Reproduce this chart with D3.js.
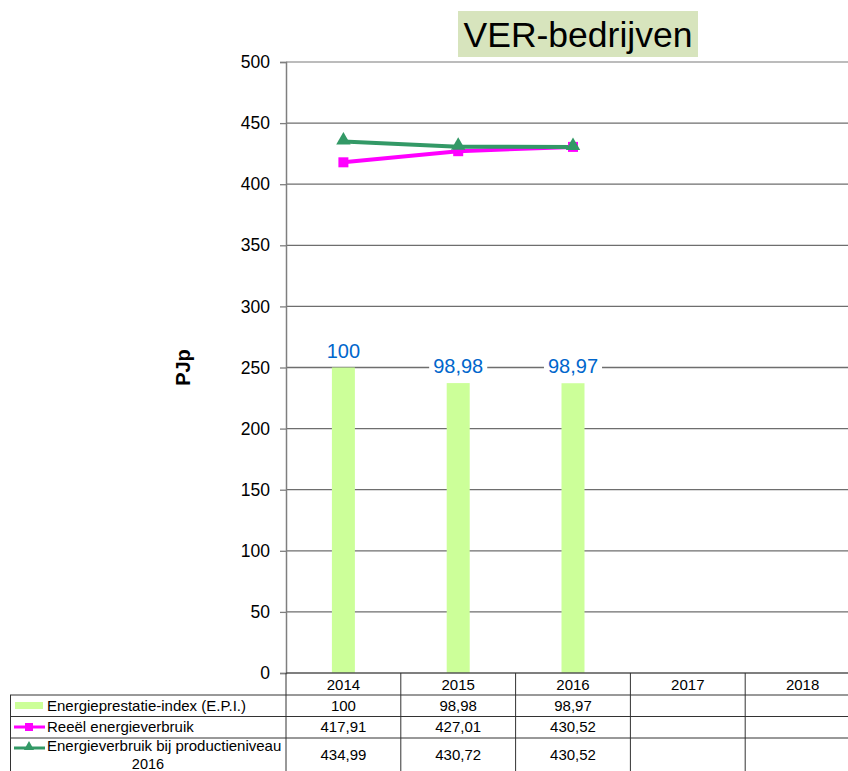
<!DOCTYPE html>
<html><head><meta charset="utf-8">
<script src="https://cdn.jsdelivr.net/npm/d3@7"></script>
<style>body{margin:0;background:#fff;overflow:hidden}svg{display:block;font-family:Arial,"Liberation Sans",sans-serif}</style>
</head><body>
<svg id="c" width="848" height="771"></svg>
<script>
const years = ["2014","2015","2016","2017","2018"];
const epi = [100, 98.98, 98.97, null, null];
const reeel = [417.91, 427.01, 430.52, null, null];
const prodniveau = [434.99, 430.72, 430.52, null, null];
const yTicks = [0,50,100,150,200,250,300,350,400,450,500];
const seriesNames = ["Energieprestatie-index (E.P.I.)","Reeël energieverbruik","Energieverbruik bij productieniveau 2016"];
const fmt = v => v == null ? "" : String(v).replace(".", ",");

const svg = d3.select("#c");
const L = 286, R = 860, T = 62, B = 673;
const x = d3.scaleBand().domain(years).range([L, R]);
const y = d3.scaleLinear().domain([0, 500]).range([B, T]);
const y2 = d3.scaleLinear().domain([80, 120]).range([B, T]);

// Title
const tg = svg.append("g");
tg.append("rect").attr("x", 458).attr("y", 11).attr("width", 240).attr("height", 46).attr("fill", "#d7e4bd");
tg.append("text").attr("x", 578).attr("y", 47).attr("text-anchor", "middle").attr("font-size", 35.5).attr("fill", "#000").text("VER-bedrijven");

// Gridlines
svg.append("g").selectAll("line").data(yTicks.filter(d => d > 0)).join("line")
  .attr("x1", L).attr("x2", R).attr("y1", d => y(d)).attr("y2", d => y(d))
  .attr("stroke", d => d === 500 ? "#a6a6a6" : "#6e6e6e").attr("stroke-width", 1.3);

// Y axis
const ax = svg.append("g").attr("transform", `translate(${L},0)`)
  .call(d3.axisLeft(y).tickValues(yTicks).tickSize(6).tickPadding(10));
ax.select(".domain").attr("stroke", "#7f7f7f").attr("stroke-width", 1.5);
ax.selectAll(".tick line").attr("stroke", "#7f7f7f").attr("stroke-width", 1.3);
ax.selectAll(".tick text").attr("font-size", 17.5).attr("fill", "#000").attr("font-family", "Arial, 'Liberation Sans', sans-serif");

svg.append("text").attr("transform", `translate(190,${y(250)}) rotate(-90)`).attr("text-anchor", "middle")
  .attr("font-size", 20).attr("font-weight", "bold").text("PJp");

// Bars
const barW = 23;
const barData = years.map((yr, i) => ({yr, v: epi[i]})).filter(d => d.v != null);
svg.append("g").selectAll("rect").data(barData).join("rect")
  .attr("x", d => x(d.yr) + x.bandwidth()/2 - barW/2).attr("width", barW)
  .attr("y", d => y2(d.v)).attr("height", d => B - y2(d.v)).attr("fill", "#ccff99");

// Bar labels
const lg = svg.append("g");
barData.forEach(d => {
  const cx = x(d.yr) + x.bandwidth()/2, cy = y2(d.v) - 17;
  const t = lg.append("text").attr("x", cx).attr("y", cy + 7).attr("text-anchor", "middle")
    .attr("font-size", 20).attr("fill", "#0066cc").text(fmt(d.v));
  const bb = t.node().getBBox();
  lg.insert("rect", "text").attr("x", bb.x - 4).attr("y", bb.y).attr("width", bb.width + 8).attr("height", bb.height).attr("fill", "#fff");
});

// Bottom axis line
svg.append("line").attr("x1", L).attr("x2", R).attr("y1", B).attr("y2", B).attr("stroke", "#555").attr("stroke-width", 1.3);

// Lines
const cx = yr => x(yr) + x.bandwidth()/2;
const line = d3.line().defined(d => d.v != null).x(d => cx(d.yr)).y(d => y(d.v));
const rData = years.map((yr, i) => ({yr, v: reeel[i]}));
const pData = years.map((yr, i) => ({yr, v: prodniveau[i]}));
svg.append("path").datum(rData).attr("d", line).attr("fill", "none").attr("stroke", "#ff00ff").attr("stroke-width", 4);
svg.append("path").datum(pData).attr("d", line).attr("fill", "none").attr("stroke", "#339966").attr("stroke-width", 4);
svg.append("g").selectAll("rect").data(rData.filter(d => d.v != null)).join("rect")
  .attr("x", d => cx(d.yr) - 5).attr("y", d => y(d.v) - 5).attr("width", 10).attr("height", 10).attr("fill", "#ff00ff");
const tri = d3.symbol().type(d3.symbolTriangle).size(90);
svg.append("g").selectAll("path").data(pData.filter(d => d.v != null)).join("path")
  .attr("transform", d => `translate(${cx(d.yr)},${y(d.v) - 1})`).attr("d", tri).attr("fill", "#339966");

// Data table
const rows = [673, 695, 716.5, 738, 800];
const tbl = svg.append("g").attr("stroke", "#333").attr("stroke-width", 1);
tbl.append("line").attr("x1", L).attr("x2", R).attr("y1", rows[1]).attr("y2", rows[1]);
tbl.append("line").attr("x1", 10).attr("x2", L).attr("y1", rows[1]).attr("y2", rows[1]);
[2,3].forEach(i => tbl.append("line").attr("x1", 10).attr("x2", R).attr("y1", rows[i]).attr("y2", rows[i]));
tbl.append("line").attr("x1", 10.5).attr("x2", 10.5).attr("y1", rows[1]).attr("y2", 771);
years.forEach(yr => tbl.append("line").attr("x1", x(yr)).attr("x2", x(yr)).attr("y1", B).attr("y2", 771));

const tt = svg.append("g").attr("font-size", 15).attr("fill", "#000");
years.forEach(yr => tt.append("text").attr("x", cx(yr)).attr("y", 690).attr("text-anchor", "middle").text(yr));
const vals = [epi, reeel, prodniveau];
const rowText = [711, 732, 760];
vals.forEach((arr, r) => arr.forEach((v, i) => {
  tt.append("text").attr("x", cx(years[i])).attr("y", rowText[r]).attr("text-anchor", "middle").text(fmt(v));
}));
// legend keys
svg.append("rect").attr("x", 15).attr("y", 702).attr("width", 28).attr("height", 7).attr("fill", "#ccff99");
tt.append("text").attr("x", 47).attr("y", 711).text(seriesNames[0]);
svg.append("line").attr("x1", 14).attr("x2", 45).attr("y1", 727).attr("y2", 727).attr("stroke", "#ff00ff").attr("stroke-width", 3);
svg.append("rect").attr("x", 25).attr("y", 723).attr("width", 8).attr("height", 8).attr("fill", "#ff00ff");
tt.append("text").attr("x", 47).attr("y", 732).text(seriesNames[1]);
svg.append("line").attr("x1", 14).attr("x2", 45).attr("y1", 748).attr("y2", 748).attr("stroke", "#339966").attr("stroke-width", 3);
svg.append("path").attr("transform", "translate(29,747)").attr("d", d3.symbol().type(d3.symbolTriangle).size(45)).attr("fill", "#339966");
tt.append("text").attr("x", 47).attr("y", 751).text("Energieverbruik bij productieniveau");
tt.append("text").attr("x", 148).attr("y", 769).attr("text-anchor", "middle").attr("font-size", 14.5).text("2016");
</script>
</body></html>
